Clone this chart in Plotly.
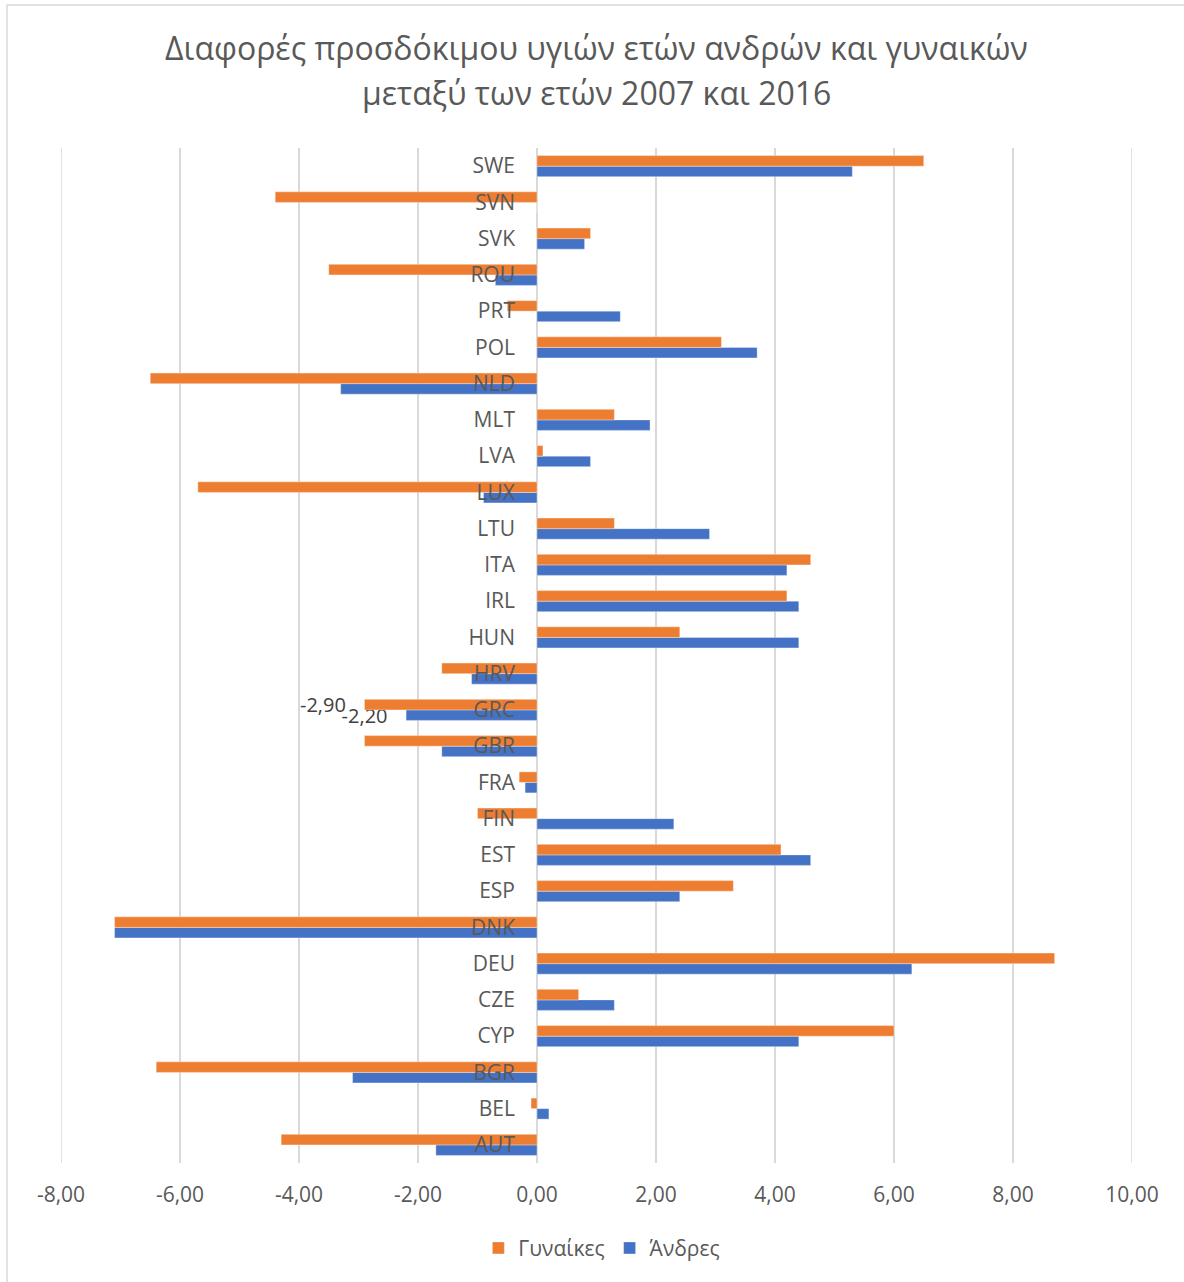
import plotly.graph_objects as go

# Healthy life years: change between 2007 and 2016, by country and sex
countries = ["AUT", "BEL", "BGR", "CYP", "CZE", "DEU", "DNK", "ESP", "EST", "FIN",
             "FRA", "GBR", "GRC", "HRV", "HUN", "IRL", "ITA", "LTU", "LUX", "LVA",
             "MLT", "NLD", "POL", "PRT", "ROU", "SVK", "SVN", "SWE"]
women = [-4.30, -0.10, -6.40, 6.00, 0.70, 8.70, -7.10, 3.30, 4.10, -1.00,
         -0.30, -2.90, -2.90, -1.60, 2.40, 4.20, 4.60, 1.30, -5.70, 0.10,
         1.30, -6.50, 3.10, -0.50, -3.50, 0.90, -4.40, 6.50]
men = [-1.70, 0.20, -3.10, 4.40, 1.30, 6.30, -7.10, 2.40, 4.60, 2.30,
       -0.20, -1.60, -2.20, -1.10, 4.40, 4.40, 4.20, 2.90, -0.90, 0.90,
       1.90, -3.30, 3.70, 1.40, -0.70, 0.80, 0.00, 5.30]
labelled = ["GRC"]
x_ticks = [-8, -6, -4, -2, 0, 2, 4, 6, 8, 10]

title_lines = ["Διαφορές προσδόκιμου υγιών ετών ανδρών και γυναικών",
               "μεταξύ των ετών 2007 και 2016"]

ORANGE = "#ED7D31"
BLUE = "#4472C4"
GREY_TXT = "#595959"
GRID = "#D9D9D9"
FONT = "Open Sans"
FS = 21

x_min, x_max = -8, 10


def fmt(v):
    # two decimals, comma as decimal mark, plain hyphen for negatives
    return f"{v:.2f}".replace(".", ",")


def value_labels(cats, vals):
    return [fmt(v) + "\u00a0\u00a0\u00a0" if c in labelled else ""
            for c, v in zip(cats, vals)]


fig = go.Figure()
fig.add_trace(go.Bar(
    y=countries, x=men, orientation="h", name="Άνδρες",
    marker=dict(color=BLUE, line=dict(color="rgba(255,255,255,0.6)", width=0.6)),
    text=value_labels(countries, men), textposition="outside",
    textfont=dict(family=FONT, size=FS - 1, color="#404040"),
    constraintext="none", legendrank=2, hoverinfo="x+y",
))
fig.add_trace(go.Bar(
    y=countries, x=women, orientation="h", name="Γυναίκες",
    marker=dict(color=ORANGE, line=dict(color="rgba(255,255,255,0.6)", width=0.6)),
    text=value_labels(countries, women), textposition="outside",
    textfont=dict(family=FONT, size=FS - 1, color="#404040"),
    constraintext="none", legendrank=1, hoverinfo="x+y",
))

zero_pos = (0 - x_min) / (x_max - x_min)

# gridlines on the two outer ticks (Plotly skips grid at the plot edges)
edge_grid = [dict(type="line", xref="x", yref="paper", x0=v, x1=v, y0=0, y1=1,
                  line=dict(color=GRID, width=1.5), layer="below")
             for v in (x_ticks[0], x_ticks[-1])]

fig.update_layout(
    width=1184, height=1282,
    margin=dict(l=61, r=52, t=148, b=119),
    paper_bgcolor="white", plot_bgcolor="white",
    font=dict(family=FONT, size=FS, color=GREY_TXT),
    barmode="group", bargap=0.42, bargroupgap=0,
    showlegend=True,
    legend=dict(orientation="h", x=0.505, xanchor="center", y=-0.084, yanchor="middle",
                font=dict(family=FONT, size=FS, color=GREY_TXT),
                itemwidth=30, traceorder="normal"),
    xaxis=dict(range=[x_min, x_max], tickvals=x_ticks,
               ticktext=[fmt(v) for v in x_ticks],
               showgrid=True, gridcolor=GRID, gridwidth=1.5,
               zeroline=True, zerolinecolor=GRID, zerolinewidth=1.5,
               showline=False, ticks="", ticklabelstandoff=17,
               tickfont=dict(family=FONT, size=FS, color=GREY_TXT), fixedrange=True),
    yaxis=dict(type="category", categoryorder="array", categoryarray=countries,
               anchor="free", position=zero_pos, showgrid=False, zeroline=False,
               showline=False, ticks="", ticklabelstandoff=22,
               tickfont=dict(family=FONT, size=FS, color=GREY_TXT),
               layer="above traces", fixedrange=True),
    shapes=[dict(type="rect", xref="paper", yref="paper",
                 x0=(7 - 61) / 1071, x1=1.2, y0=-0.3, y1=(1163 - 5) / 1015,
                 line=dict(color=GRID, width=1.5), fillcolor="rgba(0,0,0,0)",
                 layer="below")] + edge_grid,
)

for line, ypx in zip(title_lines, [48, 93]):
    fig.add_annotation(text=line, xref="paper", yref="paper", x=0.5,
                       y=(1163 - ypx) / 1015, xanchor="center", yanchor="middle",
                       showarrow=False,
                       font=dict(family=FONT, size=32, color=GREY_TXT))

fig.write_html("out.html")
